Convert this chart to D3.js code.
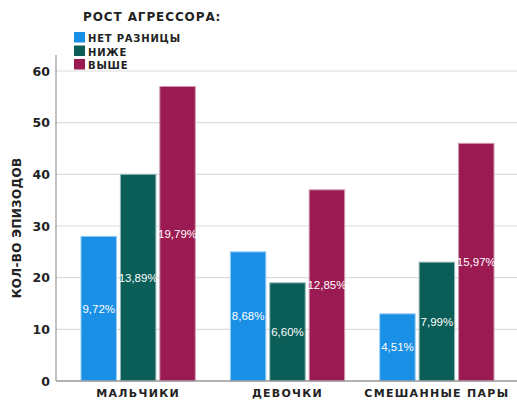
<!DOCTYPE html>
<html>
<head>
<meta charset="utf-8">
<script src="https://cdn.jsdelivr.net/npm/d3@7"></script>
<style>
  body { margin: 0; background: #fff; }
  svg text { font-family: "DejaVu Sans", Arial, sans-serif; }
</style>
</head>
<body>
<div class="chartBox"></div>
<script>
// data
var categories = ["МАЛЬЧИКИ", "ДЕВОЧКИ", "СМЕШАННЫЕ ПАРЫ"];
var seriesNames = ["НЕТ РАЗНИЦЫ", "НИЖЕ", "ВЫШЕ"];
var seriesValues = [
  [28, 25, 13],   // нет разницы
  [40, 19, 23],   // ниже
  [57, 37, 46]    // выше
];
var seriesLabels = [
  ["9,72%", "8,68%", "4,51%"],
  ["13,89%", "6,60%", "7,99%"],
  ["19,79%", "12,85%", "15,97%"]
];
var yTicks = [0, 10, 20, 30, 40, 50, 60];
var colors = ["#1a8fe6", "#0b5e58", "#9c1a52"];

var width = 517, height = 400;
var margin = {left: 56, top: 55};

var svg = d3.select(".chartBox").append("svg")
  .attr("width", width)
  .attr("height", height);

var y = d3.scaleLinear().domain([0, 60]).range([381, 71]);
var x0 = d3.scaleBand().domain(categories).range([81, 494]).paddingInner(0.235).paddingOuter(0);
var x1 = d3.scaleBand().domain(d3.range(seriesNames.length)).range([0, x0.bandwidth()]).paddingInner(0.1);

// gridlines
svg.append("g")
  .selectAll("line")
  .data(yTicks.filter(function(d){ return d > 0; }))
  .enter().append("line")
  .attr("x1", margin.left)
  .attr("x2", width)
  .attr("y1", function(d){ return y(d); })
  .attr("y2", function(d){ return y(d); })
  .style("stroke", "#dcdcdc")
  .style("stroke-width", 1.2);

// y axis
var yAxis = svg.append("g")
  .attr("transform", "translate(" + margin.left + ",0)")
  .call(d3.axisLeft(y).tickValues(yTicks).tickSize(0).tickPadding(6));
yAxis.select(".domain").remove();
yAxis.selectAll("text")
  .style("font-size", "12.5px")
  .style("font-weight", "bold")
  .style("fill", "#222");
svg.append("line")
  .attr("x1", margin.left).attr("x2", margin.left)
  .attr("y1", margin.top).attr("y2", y(0))
  .style("stroke", "#999").style("stroke-width", 1.2);

// bars
var rows = [];
seriesValues.forEach(function(vals, s){
  vals.forEach(function(v, c){
    rows.push({s: s, c: c, v: v, label: seriesLabels[s][c]});
  });
});

var bars = svg.append("g").selectAll(".bar")
  .data(rows)
  .enter().append("g")
  .attr("transform", function(d){ return "translate(" + (x0(categories[d.c]) + x1(d.s)) + ",0)"; });

bars.append("rect")
  .attr("x", 0)
  .attr("y", function(d){ return y(d.v); })
  .attr("width", x1.bandwidth())
  .attr("height", function(d){ return y(0) - y(d.v); })
  .attr("fill", function(d){ return colors[d.s]; })
  .style("stroke", function(d){ return d3.interpolateRgb(colors[d.s], "#fff")(0.55); })
  .style("stroke-width", 1);

bars.append("text")
  .attr("x", x1.bandwidth() / 2)
  .attr("y", function(d){ return y(d.v / 2); })
  .attr("dy", "0.35em")
  .attr("text-anchor", "middle")
  .style("font-family", "Arial, 'Liberation Sans', sans-serif")
  .style("font-size", "11.5px")
  .style("fill", "#fff")
  .text(function(d){ return d.label; });

// x axis baseline
svg.append("line")
  .attr("x1", margin.left).attr("x2", width)
  .attr("y1", y(0)).attr("y2", y(0))
  .style("stroke", "#999").style("stroke-width", 1.5);

// category labels
svg.append("g").selectAll("text")
  .data(categories)
  .enter().append("text")
  .attr("x", function(d){ return x0(d) + x0.bandwidth() / 2; })
  .attr("y", 397)
  .attr("text-anchor", "middle")
  .style("font-size", "11px")
  .style("font-weight", "bold")
  .style("letter-spacing", "1.3px")
  .style("fill", "#222")
  .text(function(d){ return d; });

// y title
svg.append("text")
  .attr("transform", "translate(21,228) rotate(-90)")
  .attr("text-anchor", "middle")
  .style("font-size", "12px")
  .style("font-weight", "bold")
  .style("letter-spacing", "0.3px")
  .style("fill", "#222")
  .text("КОЛ-ВО ЭПИЗОДОВ");

// legend
var legend = svg.append("g");
legend.append("text")
  .attr("x", 83).attr("y", 21)
  .style("font-size", "12px")
  .style("font-weight", "bold")
  .style("letter-spacing", "0.9px")
  .style("fill", "#222")
  .text("РОСТ АГРЕССОРА:");

var items = legend.selectAll(".item")
  .data(seriesNames)
  .enter().append("g")
  .attr("transform", function(d, i){ return "translate(74," + (32 + i * 13.5) + ")"; });
items.append("rect")
  .attr("width", 11).attr("height", 10.5)
  .attr("fill", function(d, i){ return colors[i]; });
items.append("text")
  .attr("x", 14).attr("y", 10)
  .style("font-size", "10px")
  .style("font-weight", "bold")
  .style("letter-spacing", "0.8px")
  .style("fill", "#222")
  .text(function(d){ return d; });
</script>
</body>
</html>
